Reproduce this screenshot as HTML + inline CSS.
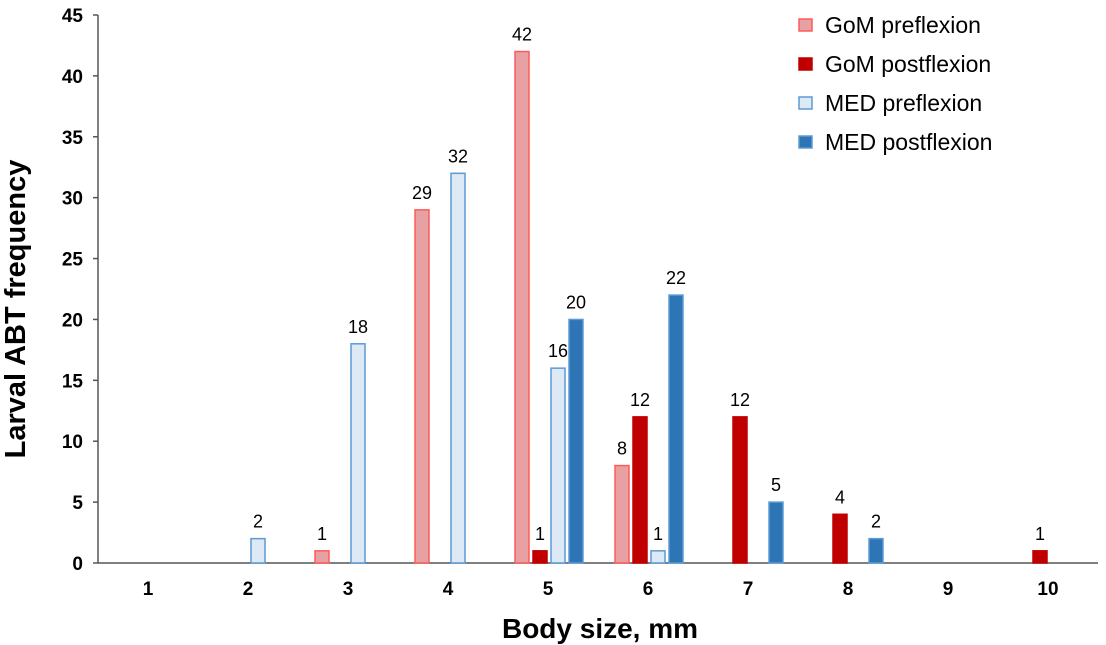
<!DOCTYPE html>
<html><head><meta charset="utf-8"><style>
body{margin:0;background:#fff;}
svg{display:block;font-family:"Liberation Sans",Arial,sans-serif;}
</style></head><body>
<svg id="chart" width="1106" height="645"></svg>
<script>
const categories=[1,2,3,4,5,6,7,8,9,10];
const gomPre=[0,0,1,29,42,8,0,0,0,0];
const gomPost=[0,0,0,0,1,12,12,4,0,1];
const medPre=[0,2,18,32,16,1,0,0,0,0];
const medPost=[0,0,0,0,20,22,5,2,0,0];
const yTicks=[0,5,10,15,20,25,30,35,40,45];
const seriesNames=["GoM preflexion","GoM postflexion","MED preflexion","MED postflexion"];
const NS="http://www.w3.org/2000/svg";
const svg=document.getElementById('chart');
const x0=98,x1=1098,y0=563,yTop=15,yMax=45;
const yS=v=>y0-(y0-yTop)*v/yMax;
const xC=i=>x0+(i+0.5)*(x1-x0)/categories.length;
function mk(t,a,p){const e=document.createElementNS(NS,t);for(const k in a)e.setAttribute(k,a[k]);(p||svg).appendChild(e);return e;}
let ax=mk('line',{x1:x0,y1:yTop,x2:x0,y2:y0,stroke:'#555','stroke-width':1.5});

yTicks.forEach(v=>{
  const t=mk('line',{x1:x0-5,y1:yS(v),x2:x0,y2:yS(v),stroke:'#555','stroke-width':1.5});
  
  const l=mk('text',{x:x0-15,y:yS(v)+7,'text-anchor':'end','font-size':19,'font-weight':'bold',fill:'#000'});
  l.textContent=v;
  
});
let xa=mk('line',{x1:x0,y1:y0,x2:x1,y2:y0,stroke:'#555','stroke-width':1.5});

categories.forEach((c,i)=>{
  const l=mk('text',{x:xC(i),y:595,'text-anchor':'middle','font-size':19,'font-weight':'bold',fill:'#000'});
  l.textContent=c;
  
});
const series=[gomPre,gomPost,medPre,medPost];
const fills=['#e8a1a3','#c00000','#dde9f5','#2e75b6'];
const strokes=['#ff5b5b','#c00000','#5b9bd5','#5b9bd5'];
const offs=[-26,-8,10,28];
series.forEach((s,si)=>{
  s.forEach((v,i)=>{
    if(!v)return;
    const cx=xC(i)+offs[si];
    const r=mk('rect',{x:cx-7,y:yS(v),width:14,height:y0-yS(v),fill:fills[si],stroke:strokes[si],'stroke-width':1.5});
    
    
    const l=mk('text',{x:cx,y:yS(v)-11,'text-anchor':'middle','font-size':18,fill:'#000'});
    l.textContent=v;
    
  });
});
seriesNames.forEach((n,si)=>{
  const y=25+si*39;
  const g=mk('g',{});
  
  mk('rect',{x:799,y:y-6,width:13,height:12,fill:fills[si],stroke:strokes[si],'stroke-width':1.5},g);
  const t=mk('text',{x:825,y:y+8,'font-size':23,fill:'#000'},g);t.textContent=n;
});
let xt=mk('text',{x:600,y:638,'text-anchor':'middle','font-size':28,'font-weight':'bold',fill:'#000'});
xt.textContent='Body size, mm';
let yt=mk('text',{x:0,y:0,transform:'translate(25,309) rotate(-90)','text-anchor':'middle','font-size':29,'font-weight':'bold',fill:'#000'});
yt.textContent='Larval ABT frequency';
</script>
</body></html>
